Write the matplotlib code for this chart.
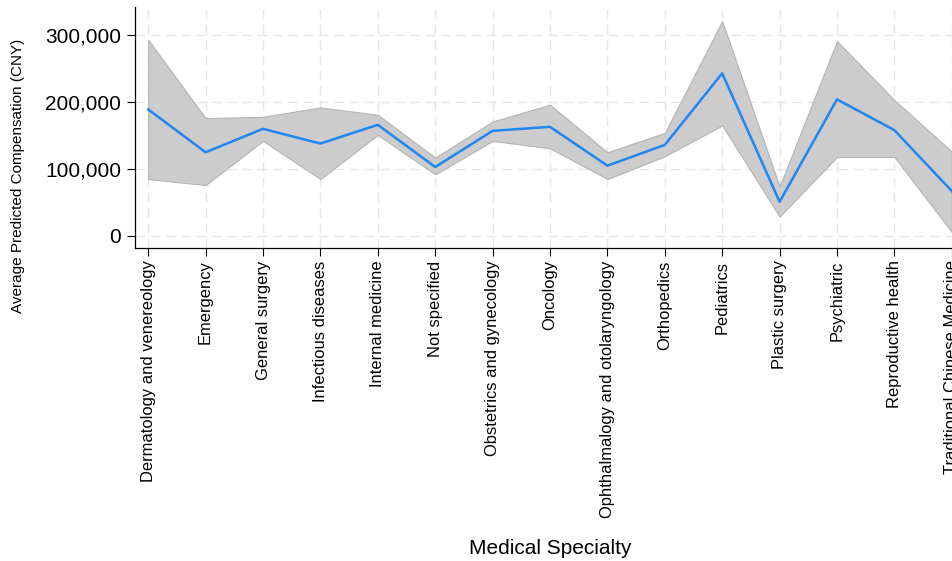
import numpy as np
import matplotlib
matplotlib.use("Agg")
import matplotlib.pyplot as plt
from matplotlib.ticker import FuncFormatter

plt.rcParams["font.family"] = ["Liberation Sans", "DejaVu Sans"]

# ── data ─────────────────────────────────────────────────────────────────
specialties = [
    "Dermatology and venereology", "Emergency", "General surgery",
    "Infectious diseases", "Internal medicine", "Not specified",
    "Obstetrics and gynecology", "Oncology", "Ophthalmalogy and otolaryngology",
    "Orthopedics", "Pediatrics", "Plastic surgery", "Psychiatric",
    "Reproductive health", "Traditional Chinese Medicine",
]
mean_comp = [189000, 125000, 160000, 138000, 166000, 103000, 157000, 163000,
             105000, 136000, 243000, 51000, 204000, 158000, 67000]
upper_ci = [293000, 176000, 178000, 192000, 181000, 117000, 171000, 196000,
            125000, 154000, 321000, 74000, 291000, 203000, 126000]
lower_ci = [85000, 76000, 142000, 85000, 151000, 92000, 142000, 131000,
            85000, 119000, 165000, 29000, 118000, 118000, 6000]
y_ticks = [0, 100000, 200000, 300000]

# ── plot ─────────────────────────────────────────────────────────────────
fig = plt.figure(figsize=(9.53, 5.61), dpi=100)
# axes run past the right edge of the figure, as in the reference
ax = fig.add_axes([135 / 953, 313 / 561, 830 / 953, 241 / 561])

x = np.arange(len(specialties))
ax.fill_between(x, lower_ci, upper_ci, color="#cccccc", edgecolor="#b4b4b4",
                linewidth=0.8, zorder=2)
ax.plot(x, mean_comp, color="#1f86f2", linewidth=1.8, zorder=3)

ax.set_xlim(-0.23, len(specialties) - 1 + 0.23)
ax.set_ylim(-18000, 342000)

ax.set_xticks(x)
ax.set_xticklabels(specialties, rotation=90, fontsize=11.9)
ax.set_yticks(y_ticks)
ax.yaxis.set_major_formatter(FuncFormatter(lambda v, p: f"{int(v):,}"))
ax.tick_params(axis="y", labelsize=15, length=6, width=0.8, pad=4)
ax.tick_params(axis="x", length=6, width=0.8, pad=3)

ax.grid(True, color="#e6e6e6", linestyle=(0, (7, 4)), linewidth=1.0, zorder=0)
ax.set_axisbelow(True)
for s in ["top", "right"]:
    ax.spines[s].set_visible(False)
for s in ["left", "bottom"]:
    ax.spines[s].set_linewidth(0.9)

fig.text(550 / 953, 1 - 548 / 561, "Medical Specialty", ha="center",
         va="center", fontsize=15)
fig.text(18 / 953, 1 - 176 / 561, "Average Predicted Compensation (CNY)",
         rotation=90, ha="center", va="center", fontsize=11)

fig.savefig("out.png", dpi=100)
